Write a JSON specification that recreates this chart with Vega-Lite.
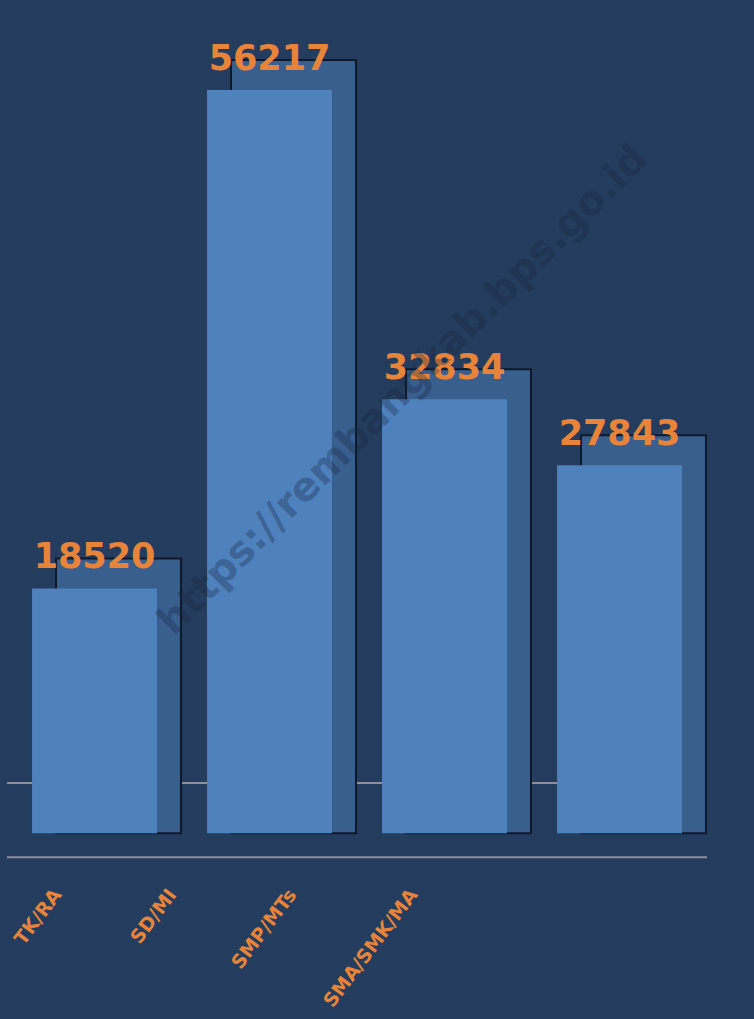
{
  "$schema": "https://vega.github.io/schema/vega-lite/v6.json",
  "width": 700,
  "height": 833,
  "autosize": {"type": "none"},
  "padding": {"left": 7, "top": 40, "right": 47, "bottom": 146},
  "background": "#243d5e",
  "config": {"view": {"stroke": null}},
  "data": {
    "values": [
      {"jenjang": "TK/RA", "jumlah": 18520},
      {"jenjang": "SD/MI", "jumlah": 56217},
      {"jenjang": "SMP/MTs", "jumlah": 32834},
      {"jenjang": "SMA/SMK/MA", "jumlah": 27843}
    ]
  },
  "encoding": {
    "x": {
      "field": "jenjang",
      "type": "nominal",
      "sort": null,
      "scale": {"paddingInner": 0.286, "paddingOuter": 0.143},
      "axis": {
        "title": null,
        "domain": false,
        "ticks": false,
        "labelAngle": -53,
        "labelAlign": "right",
        "labelBaseline": "middle",
        "labelColor": "#e8843a",
        "labelFont": "DejaVu Sans",
        "labelFontSize": 19,
        "labelFontWeight": 600,
        "labelPadding": 18,
        "labelOffset": {
          "condition": [
            {"test": "datum.value === 'TK/RA'", "value": -37},
            {"test": "datum.value === 'SD/MI'", "value": -97},
            {"test": "datum.value === 'SMP/MTs'", "value": -152}
          ],
          "value": -206
        }
      }
    },
    "y": {
      "field": "jumlah",
      "type": "quantitative",
      "scale": {"domain": [-3000, 60000], "nice": false},
      "axis": null
    }
  },
  "layer": [
    {
      "data": {"values": [{"lantai": 3800}]},
      "mark": {"type": "rule", "color": "#8d8f9c", "strokeWidth": 2},
      "encoding": {"x": null, "y": {"field": "lantai", "type": "quantitative"}}
    },
    {
      "mark": {
        "type": "bar",
        "xOffset": 24,
        "yOffset": -30,
        "color": "#395f8f",
        "stroke": "#0e1a2b",
        "strokeWidth": 2
      },
      "encoding": {"y2": {"datum": 0}}
    },
    {
      "mark": {"type": "bar", "color": "#4f81bd"}
    },
    {
      "data": {"values": [{"lantai": -1800}]},
      "mark": {"type": "rule", "color": "#8d8f9c", "strokeWidth": 2},
      "encoding": {"x": null, "y": {"field": "lantai", "type": "quantitative"}}
    },
    {
      "mark": {
        "type": "text",
        "dy": -20,
        "baseline": "alphabetic",
        "font": "DejaVu Sans",
        "fontWeight": "bold",
        "fontSize": 35,
        "color": "#e8843a"
      },
      "encoding": {"text": {"field": "jumlah", "type": "quantitative", "format": "d"}}
    },
    {
      "data": {"values": [{"teks": "https://rembangkab.bps.go.id", "jenjang": "SMP/MTs", "jumlah": 33500}]},
      "mark": {
        "type": "text",
        "angle": -45,
        "font": "DejaVu Sans",
        "fontWeight": "bold",
        "fontSize": 40,
        "color": "#14253d",
        "opacity": 0.3
      },
      "encoding": {
        "x": {"field": "jenjang", "type": "nominal", "bandPosition": 0.17},
        "text": {"field": "teks"}
      }
    }
  ]
}
